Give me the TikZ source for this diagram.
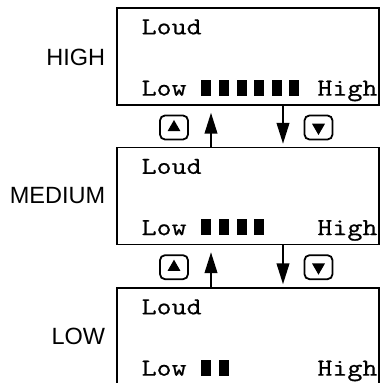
\documentclass[tikz,border=0pt]{standalone}
\usepackage{fontspec}
\setmainfont{Liberation Sans}
\newfontfamily\lcdfont[FakeStretch=1.19, FakeBold=0.7]{Latin Modern Mono}
\usetikzlibrary{positioning, arrows.meta, shapes.geometric}

\tikzset{
    lcd/.style={draw, line width=1.3pt, minimum width=262pt, minimum height=97pt, inner sep=0pt},
    level/.style={font=\fontsize{23.5}{24}\selectfont, inner sep=0pt},
    lcdtext/.style={font=\lcdfont\fontsize{24.5}{25}\selectfont, inner sep=0pt},
    key/.style={draw, line width=1.8pt, rounded corners=5pt, minimum width=28pt, minimum height=24pt, inner sep=0pt},
    keymark/.style={regular polygon, regular polygon sides=3, fill=black, minimum size=15pt, inner sep=0pt},
    step arrow/.style={line width=2.4pt, -{Triangle[length=21pt, width=12.5pt]}}
}

\begin{document}
\begin{tikzpicture}[x=1pt, y=1pt]
    \useasboundingbox (0,0) rectangle (389,383);

    % the three displays
    \node[lcd] (high) at (248,326.5) {};
    \node[lcd] (med) at (248,187) {};
    \node[lcd] (low) at (248,46.5) {};

    \node[level, left=11pt of high, yshift=-1pt] (high-label) {HIGH};
    \node[level, left=11pt of med] (med-label) {MEDIUM};
    \node[level, left=11pt of low] (low-label) {LOW};

    \foreach \s/\n in {high/6, med/4, low/2} {
        \node[lcdtext, anchor=base west] (\s-loud) at ([shift={(25,-27)}]\s.north west) {Loud};
        \node[lcdtext, anchor=base west] (\s-low) at ([shift={(25,10)}]\s.south west) {Low};
        \node[lcdtext, anchor=base east] (\s-high) at ([shift={(-2,10)}]\s.south east) {High};
        \foreach \i in {1,...,\n}
            \fill ([shift={({85+17.6*(\i-1)},10)}]\s.south west) rectangle ++(10,16);
    }

    % keys
    \node[key] (up1) at (174,255.5) {};
    \node[key] (down1) at (318.5,255.5) {};
    \node[key] (up2) at (174,115.8) {};
    \node[key] (down2) at (318.5,115.8) {};
    \node[keymark] (up1-mark) at (up1) {};
    \node[keymark] (up2-mark) at (up2) {};
    \node[keymark, shape border rotate=180] (down1-mark) at (down1) {};
    \node[keymark, shape border rotate=180] (down2-mark) at (down2) {};

    \draw[step arrow, shorten >=7pt] ([xshift=-37pt]med.north) -- ([xshift=-37pt]high.south);
    \draw[step arrow, shorten >=3pt] ([xshift=35pt]high.south) -- ([xshift=35pt]med.north);
    \draw[step arrow, shorten >=7pt] ([xshift=-37pt]low.north) -- ([xshift=-37pt]med.south);
    \draw[step arrow, shorten >=3pt] ([xshift=35pt]med.south) -- ([xshift=35pt]low.north);
\end{tikzpicture}
\end{document}
